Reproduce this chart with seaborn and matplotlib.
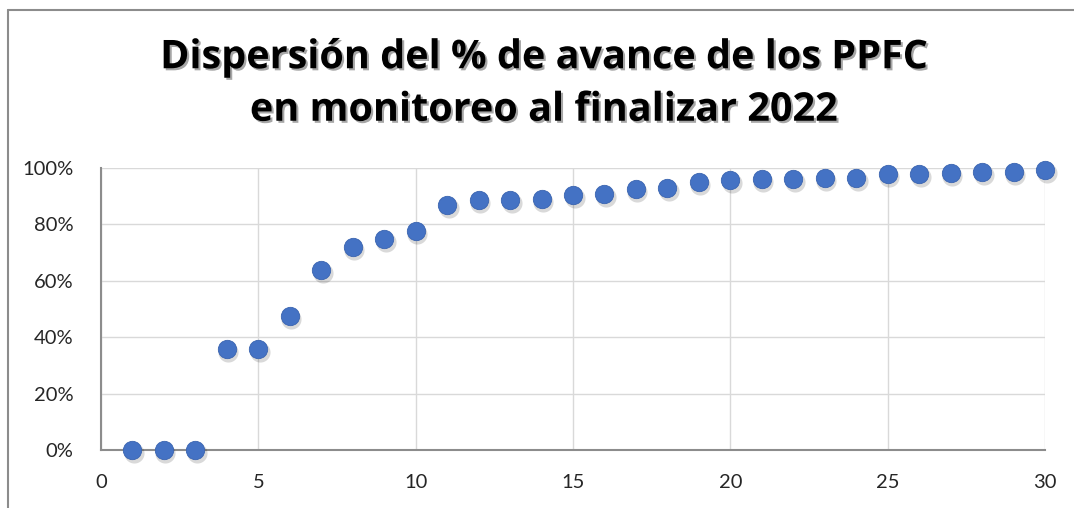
import matplotlib.pyplot as plt
import matplotlib.patheffects as pe
import matplotlib.ticker as mticker
import pandas as pd
import seaborn as sns
from matplotlib.lines import Line2D
from matplotlib.transforms import offset_copy

# Datos
ppfc = list(range(1, 31))
avance = [0.0, 0.0, 0.0, 0.357, 0.357, 0.476, 0.639, 0.720, 0.748, 0.777,
          0.870, 0.888, 0.888, 0.890, 0.904, 0.909, 0.926, 0.928, 0.952, 0.959,
          0.960, 0.961, 0.965, 0.964, 0.978, 0.980, 0.983, 0.985, 0.985, 0.994]
x_ticks = [0, 5, 10, 15, 20, 25, 30]
y_ticks = [0, 0.2, 0.4, 0.6, 0.8, 1.0]
titulo = "Dispersión del % de avance de los PPFC\nen monitoreo al finalizar 2022"

df = pd.DataFrame({"ppfc": ppfc, "avance": avance})

sns.set_theme(style="white")
plt.rcParams["font.family"] = ["Lato", "DejaVu Sans"]

fig = plt.figure(figsize=(10.74, 5.08), dpi=100)
ax = fig.add_axes([101 / 1074, 1 - 450 / 508, 944 / 1074, 282 / 508])

# Sombra de los marcadores
sombra = offset_copy(ax.transData, fig=fig, x=1.5, y=-3, units="dots")
ax.scatter(df["ppfc"], df["avance"], s=210, color="#000000", alpha=0.15,
           linewidths=0, transform=sombra, zorder=3, clip_on=False)
sns.scatterplot(data=df, x="ppfc", y="avance", ax=ax, s=175, color="#4472C4",
                edgecolor="#3A64B0", linewidth=0.6, zorder=4, clip_on=False,
                legend=False)

ax.set_xlim(0, 30)
ax.set_ylim(0, 1)
ax.set_xticks(x_ticks)
ax.set_yticks(y_ticks)
ax.yaxis.set_major_formatter(mticker.PercentFormatter(1.0, decimals=0))
ax.grid(True, color="#D9D9D9", linewidth=1)
ax.set_axisbelow(True)
for lado in ["top", "right"]:
    ax.spines[lado].set_visible(False)
for lado in ["left", "bottom"]:
    ax.spines[lado].set_color("#8C8C8C")
    ax.spines[lado].set_linewidth(1.5)
ax.tick_params(axis="both", length=0, labelsize=14.5, colors="#262626")
ax.tick_params(axis="x", pad=17)
ax.tick_params(axis="y", pad=20)
ax.set_xlabel("")
ax.set_ylabel("")

fig.text(544 / 1074, 1 - 84 / 508, titulo, ha="center", va="center",
         fontsize=28.5, fontweight="bold", color="#000000", linespacing=1.45,
         family=["Open Sans", "DejaVu Sans"],
         path_effects=[pe.withSimplePatchShadow(offset=(1.5, -1.5),
                                                shadow_rgbFace="#000000",
                                                alpha=0.35)])

# Borde del área del gráfico
fig.add_artist(Line2D([8 / 1074, 8 / 1074], [0, 1 - 10 / 508],
                      transform=fig.transFigure, color="#8C8C8C", lw=1.5))
fig.add_artist(Line2D([8 / 1074, 1], [1 - 10 / 508, 1 - 10 / 508],
                      transform=fig.transFigure, color="#8C8C8C", lw=1.5))

fig.savefig("out.png", dpi=100)
